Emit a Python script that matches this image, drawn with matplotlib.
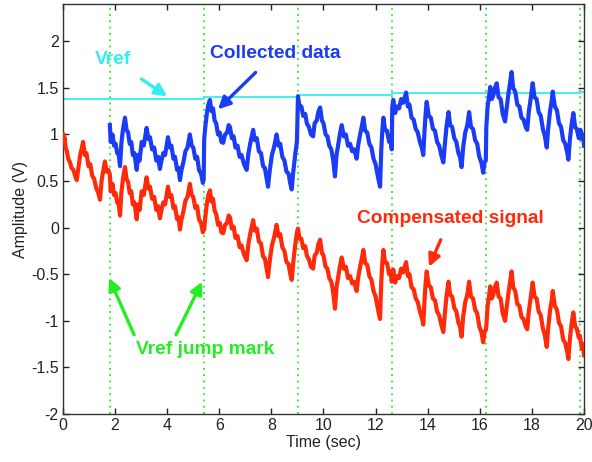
import matplotlib
matplotlib.use("Agg")
import matplotlib.pyplot as plt
import numpy as np

plt.rcParams["font.family"] = ["Liberation Sans", "DejaVu Sans"]

# Vref jump instants (s)
jump_times = [1.80, 5.41, 9.02, 12.63, 16.24, 19.85]

# Vref level, piecewise constant between jumps
vref_t = [0.0, 1.80, 1.80, 5.41, 5.41, 9.02, 9.02, 12.63, 12.63, 16.24, 16.24, 19.85, 19.85, 20.0]
vref_v = [1.378, 1.378, 1.385, 1.385, 1.398, 1.398, 1.420, 1.420, 1.440, 1.440, 1.448, 1.448, 1.455, 1.455]

# Collected data, recorded from the first jump on
blue_t = [
    1.80, 1.83, 1.90, 1.96, 2.02, 2.08, 2.14, 2.19, 2.24, 2.30, 2.38, 2.44, 2.50, 2.56, 2.62,
    2.68, 2.74, 2.83, 2.88, 2.94, 3.02, 3.10, 3.21, 3.28, 3.34, 3.42, 3.50, 3.58, 3.65, 3.72,
    3.78, 3.85, 3.92, 4.03, 4.10, 4.16, 4.24, 4.30, 4.38, 4.44, 4.49, 4.55, 4.62, 4.70, 4.78,
    4.87, 4.94, 5.00, 5.08, 5.15, 5.22, 5.30, 5.37,
    5.40, 5.42, 5.47, 5.52, 5.58, 5.64, 5.70, 5.76, 5.82, 5.88, 5.95, 6.02, 6.08, 6.15, 6.22,
    6.30, 6.36, 6.41, 6.48, 6.55, 6.62, 6.70, 6.78, 6.85, 6.95, 7.05, 7.12, 7.20, 7.30, 7.36,
    7.44, 7.52, 7.60, 7.68, 7.75, 7.82, 7.87, 7.94, 8.02, 8.10, 8.20, 8.27, 8.34, 8.42, 8.50,
    8.58, 8.66, 8.72, 8.78, 8.84, 8.92, 8.98,
    9.02, 9.08, 9.15, 9.22, 9.30, 9.36, 9.44, 9.52, 9.60, 9.66, 9.74, 9.80, 9.87, 9.94, 10.00,
    10.08, 10.15, 10.22, 10.30, 10.37, 10.44, 10.50, 10.58, 10.64, 10.70, 10.78, 10.86, 10.94,
    11.02, 11.10, 11.18, 11.27, 11.34, 11.42, 11.48, 11.53, 11.60, 11.68, 11.76, 11.84, 11.92,
    12.00, 12.08, 12.17, 12.22, 12.26, 12.30, 12.36, 12.44, 12.52, 12.58, 12.62,
    12.64, 12.68, 12.75, 12.82, 12.90, 12.98, 13.06, 13.17, 13.24, 13.30, 13.38, 13.46, 13.54,
    13.62, 13.70, 13.78, 13.83, 13.88, 13.92, 13.96, 14.04, 14.12, 14.20, 14.28, 14.36, 14.44,
    14.52, 14.60, 14.66, 14.72, 14.80, 14.86, 14.94, 15.02, 15.10, 15.18, 15.24, 15.30, 15.36,
    15.44, 15.52, 15.59, 15.66, 15.74, 15.82, 15.90, 15.98, 16.06, 16.13, 16.18, 16.23,
    16.25, 16.30, 16.36, 16.40, 16.46, 16.52, 16.58, 16.65, 16.72, 16.80, 16.88, 16.97, 17.04,
    17.10, 17.16, 17.22, 17.28, 17.36, 17.44, 17.52, 17.60, 17.68, 17.76, 17.82, 17.88, 17.96,
    18.03, 18.10, 18.18, 18.26, 18.34, 18.42, 18.50, 18.57, 18.62, 18.70, 18.76, 18.80, 18.88,
    18.96, 19.04, 19.12, 19.20, 19.28, 19.36, 19.40, 19.46, 19.52, 19.59, 19.66, 19.72, 19.80,
    19.84,
    19.86, 19.92, 19.97, 20.00,
]
blue_v = [
    1.10, 0.92, 1.00, 0.88, 0.90, 0.80, 0.78, 0.66, 0.90, 1.05, 1.18, 1.05, 1.02, 0.90, 0.92,
    0.78, 0.80, 0.62, 0.78, 0.72, 0.92, 0.88, 1.07, 0.95, 0.97, 0.84, 0.86, 0.72, 0.76, 0.63,
    0.72, 0.80, 0.78, 0.97, 0.86, 0.88, 0.74, 0.76, 0.62, 0.64, 0.51, 0.62, 0.70, 0.82, 0.86,
    1.00, 0.88, 0.86, 0.74, 0.76, 0.62, 0.58, 0.48,
    0.52, 0.95, 1.10, 1.22, 1.32, 1.37, 1.25, 1.28, 1.15, 1.12, 1.00, 1.02, 0.92, 0.91, 1.00,
    1.02, 1.10, 1.08, 0.96, 0.98, 0.86, 0.88, 0.76, 0.78, 0.68, 0.62, 0.80, 0.92, 1.05, 0.94,
    0.96, 0.82, 0.80, 0.66, 0.64, 0.52, 0.44, 0.62, 0.78, 0.86, 1.00, 0.88, 0.90, 0.76, 0.72,
    0.60, 0.58, 0.48, 0.41, 0.60, 0.80, 0.92,
    1.41, 1.30, 1.30, 1.20, 1.22, 1.12, 1.08, 1.00, 0.98, 1.12, 1.15, 1.24, 1.29, 1.15, 1.12,
    1.00, 0.98, 0.88, 0.84, 0.73, 0.55, 0.78, 0.92, 1.02, 1.10, 0.98, 1.00, 0.88,
    0.90, 0.82, 0.84, 0.74, 0.90, 1.02, 1.10, 1.18, 1.04, 1.02, 0.90, 0.86, 0.74,
    0.68, 0.56, 0.44, 0.85, 1.05, 1.18, 1.05, 1.04, 0.92, 0.95, 0.84,
    1.30, 1.37, 1.23, 1.30, 1.28, 1.38, 1.34, 1.45, 1.30, 1.32, 1.18, 1.16, 1.06,
    1.02, 0.92, 0.85, 0.78, 1.05, 1.22, 1.35, 1.20, 1.18, 1.06, 1.04, 0.92, 0.88,
    0.78, 0.70, 0.90, 1.08, 1.24, 1.10, 1.08, 0.96, 0.92, 0.80, 0.76, 0.65, 0.86,
    1.02, 1.10, 1.24, 1.08, 1.06, 0.94, 0.90, 0.76, 0.70, 0.59, 0.70, 0.72,
    1.08, 1.30, 1.42, 1.51, 1.38, 1.42, 1.50, 1.55, 1.40, 1.38, 1.22, 1.14, 1.30,
    1.44, 1.55, 1.67, 1.50, 1.46, 1.32, 1.30, 1.18, 1.16, 1.08, 1.05, 1.24, 1.40,
    1.55, 1.40, 1.38, 1.24, 1.20, 1.06, 0.98, 0.86, 1.05, 1.26, 1.36, 1.46, 1.30,
    1.26, 1.12, 1.08, 0.94, 0.90, 0.80, 0.73, 0.95, 1.10, 1.23, 1.08, 1.06, 0.96,
    0.98,
    1.05, 0.95, 1.00, 0.88,
]

# Compensated signal before the first jump (no collected data yet)
red_head_t = [0.00, 0.03, 0.06, 0.10, 0.15, 0.20, 0.27, 0.33, 0.40, 0.46, 0.53, 0.60, 0.66,
              0.72, 0.77, 0.84, 0.90, 0.98, 1.05, 1.12, 1.20, 1.28, 1.35, 1.42, 1.48, 1.55,
              1.61, 1.68, 1.74]
red_head_v = [1.00, 0.93, 0.97, 0.86, 0.82, 0.74, 0.70, 0.64, 0.62, 0.56, 0.51, 0.66, 0.78,
              0.85, 0.92, 0.78, 0.80, 0.66, 0.68, 0.56, 0.52, 0.42, 0.38, 0.30, 0.50, 0.62,
              0.71, 0.60, 0.62]

# Accumulated compensation removed after each jump (V)
compensation = [0.53, 0.97, 1.42, 1.82, 2.14, 2.25]

# compensated = collected - accumulated compensation of the current interval
bt = np.array(blue_t)
seg = np.searchsorted(jump_times, bt, side="right") - 1
red_t = list(red_head_t) + blue_t
red_v = list(red_head_v) + list(np.array(blue_v) - np.array(compensation)[seg])

BLUE = "#1a3cf5"
RED = "#ff2a0a"
CYAN = "#33eef0"
GREEN = "#22ee22"

fig = plt.figure(figsize=(5.92, 4.62), dpi=100)
ax = fig.add_axes([0.1064, 0.1039, 0.8801, 0.8874])

for t in jump_times:
    ax.axvline(t, color=GREEN, linestyle=(0, (1, 2.5)), linewidth=1.3, zorder=1)

ax.plot(vref_t, vref_v, color=CYAN, linewidth=1.3, zorder=2)
ax.plot(blue_t, blue_v, color=BLUE, linewidth=3.0, zorder=3)
ax.plot(red_t, red_v, color=RED, linewidth=3.0, zorder=3)

ax.set_xlim(0, 20)
ax.set_ylim(-2, 2.4)
ax.set_xticks(range(0, 21, 2))
ax.set_yticks([-2, -1.5, -1, -0.5, 0, 0.5, 1, 1.5, 2])
ax.set_yticklabels(["-2", "-1.5", "-1", "-0.5", "0", "0.5", "1", "1.5", "2"])
ax.tick_params(direction="in", length=4, width=1, top=True, right=True,
               labelsize=11.5, colors="#222222", pad=3)
for s in ax.spines.values():
    s.set_color("#333333")
    s.set_linewidth(1.0)

ax.set_xlabel("Time (sec)", fontsize=11.5, color="#222222", labelpad=1)
ax.set_ylabel("Amplitude (V)", fontsize=11.5, color="#222222", labelpad=2)

arrow = dict(arrowstyle="-|>", linewidth=2.4, mutation_scale=18)
label_size = 13.8

ax.annotate("Vref", xy=(4.0, 1.41), xytext=(1.92, 1.80), color=CYAN,
            fontsize=label_size, fontweight="bold", ha="center", va="center",
            arrowprops=dict(arrow, color=CYAN, shrinkA=10, shrinkB=0))
ax.annotate("Collected data", xy=(5.95, 1.27), xytext=(8.14, 1.87), color=BLUE,
            fontsize=label_size, fontweight="bold", ha="center", va="center",
            arrowprops=dict(arrow, color=BLUE, shrinkA=8, shrinkB=0))
ax.annotate("Compensated signal", xy=(14.05, -0.42), xytext=(14.86, 0.10), color=RED,
            fontsize=label_size, fontweight="bold", ha="center", va="center",
            arrowprops=dict(arrow, color=RED, shrinkA=8, shrinkB=0))

ax.text(5.45, -1.31, "Vref jump mark", color=GREEN, fontsize=label_size, fontweight="bold",
        ha="center", va="center")
ax.annotate("", xy=(1.77, -0.54), xytext=(2.73, -1.15),
            arrowprops=dict(arrow, color=GREEN, shrinkA=0, shrinkB=0))
ax.annotate("", xy=(5.34, -0.58), xytext=(4.34, -1.15),
            arrowprops=dict(arrow, color=GREEN, shrinkA=0, shrinkB=0))

fig.savefig("out.png", dpi=100)
